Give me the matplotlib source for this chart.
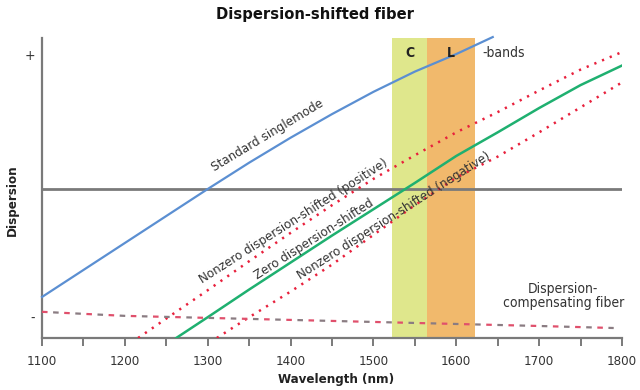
import matplotlib
matplotlib.use("Agg")
import matplotlib.pyplot as plt
from matplotlib.ticker import MultipleLocator, FixedLocator

plt.rcParams['font.family'] = ['DejaVu Sans']
plt.rcParams['font.stretch'] = 'condensed'
plt.rcParams['lines.scale_dashes'] = False

# ---- data (wavelength in nm, dispersion in arbitrary units) ----
std_wl = [1100, 1150, 1200, 1250, 1300, 1350, 1400, 1450, 1500, 1550, 1600, 1644]
std_d = [-8.0, -6.0, -4.0, -2.0, 0.0, 1.95, 3.8, 5.55, 7.2, 8.7, 10.0, 11.26]

zero_wl = [1262, 1300, 1350, 1400, 1450, 1500, 1550, 1600, 1650, 1700, 1750, 1800]
zero_d = [-11.04, -9.5, -7.45, -5.45, -3.45, -1.5, 0.45, 2.45, 4.2, 6.0, 7.7, 9.15]

nzp_wl = [1216, 1250, 1300, 1350, 1400, 1450, 1500, 1550, 1600, 1650, 1700, 1750, 1800]
nzp_d = [-11.04, -9.6, -7.5, -5.35, -3.25, -1.2, 0.75, 2.5, 4.2, 5.7, 7.3, 8.85, 10.15]

nzn_wl = [1311, 1350, 1400, 1450, 1500, 1550, 1600, 1650, 1700, 1750, 1800]
nzn_d = [-11.04, -9.5, -7.6, -5.6, -3.4, -1.2, 0.85, 2.4, 4.2, 6.05, 7.9]

dcf_wl = [1100, 1200, 1300, 1400, 1500, 1600, 1700, 1790]
dcf_d = [-9.1, -9.4, -9.55, -9.7, -9.85, -10.0, -10.15, -10.3]

band_names = ["C", "L"]
band_start = [1522, 1565]
band_end = [1565, 1623]

x_ticks = [1100, 1200, 1300, 1400, 1500, 1600, 1700, 1800]
y_tick_pos = [10, -9.5]
y_tick_labels = ["+", "-"]

# ---- figure ----
W, H = 640, 390
fig = plt.figure(figsize=(6.4, 3.9), dpi=100)
ax = fig.add_axes([42 / W, (H - 338) / H, 580 / W, 300 / H])
ax.set_xlim(1100, 1800)
ax.set_ylim(-11.04, 11.19)

band_colors = ["#dfe78c", "#f1b96c"]
for s, e, c, n in zip(band_start, band_end, band_colors, band_names):
    ax.axvspan(s, e, color=c, lw=0, zorder=1)
    ax.text((s + e) / 2, 10.1, n, ha='center', va='center', fontsize=10,
            fontweight='bold', color='#222222', zorder=6)
ax.text(1632, 10.05, "-bands", ha='left', va='center', fontsize=10, color='#333333')

ax.axhline(0, color='#7a7a7a', lw=2.0, zorder=3)

dot = (0, (1.6, 4.4))
ax.plot(std_wl, std_d, color='#5b8fd2', lw=1.6, zorder=4, clip_on=False)
ax.plot(zero_wl, zero_d, color='#1fb070', lw=1.8, zorder=4)
ax.plot(nzp_wl, nzp_d, color='#e8203c', lw=1.8, ls=dot, zorder=4)
ax.plot(nzn_wl, nzn_d, color='#e8203c', lw=1.8, ls=dot, zorder=4)
ax.plot(dcf_wl, dcf_d, color='#e0506c', lw=1.6, ls=(0, (4, 12)), zorder=4)
ax.plot(dcf_wl, dcf_d, color='#8a7c82', lw=1.6, ls=(8, (4, 12)), zorder=4)

lab_kw = dict(ha='center', va='center', fontsize=9.5, color='#333333', zorder=6,
              rotation_mode='anchor')
ax.text(1372, 4.0, "Standard singlemode", rotation=31, **lab_kw)
ax.text(1404, -2.35, "Nonzero dispersion-shifted (positive)", rotation=32.5, **lab_kw)
ax.text(1428, -3.7, "Zero dispersion-shifted", rotation=32.5, **lab_kw)
ax.text(1525, -2.0, "Nonzero dispersion-shifted (negative)", rotation=32.5, **lab_kw)
ax.text(1729, -7.9, "Dispersion-\ncompensating fiber", ha='center', va='center',
        fontsize=10, color='#333333', linespacing=1.0)

for side in ['top', 'right']:
    ax.spines[side].set_visible(False)
for side in ['left', 'bottom']:
    ax.spines[side].set_color('#7a7a7a')
    ax.spines[side].set_linewidth(1.6)

ax.xaxis.set_major_locator(FixedLocator(x_ticks))
ax.xaxis.set_minor_locator(MultipleLocator(50))
ax.set_xticklabels([str(t) for t in x_ticks])
ax.tick_params(axis='x', which='both', direction='out', length=6, width=1.4,
               color='#7a7a7a', labelsize=9.5, labelcolor='#333333', pad=6)
ax.set_yticks(y_tick_pos)
ax.set_yticklabels(y_tick_labels)
ax.tick_params(axis='y', length=0, labelsize=10, pad=5, labelcolor='#333333')

fig.text(315 / W, 1 - 15 / H, "Dispersion-shifted fiber", ha='center', va='center',
         fontsize=11.8, fontweight='bold', color='#111111')
fig.text(336 / W, 1 - 380 / H, "Wavelength (nm)", ha='center', va='center',
         fontsize=9.5, fontweight='bold', color='#222222')
fig.text(12 / W, 1 - 200 / H, "Dispersion", ha='center', va='center', rotation=90,
         fontsize=9.5, fontweight='bold', color='#222222')

fig.savefig("out.png", dpi=100)
